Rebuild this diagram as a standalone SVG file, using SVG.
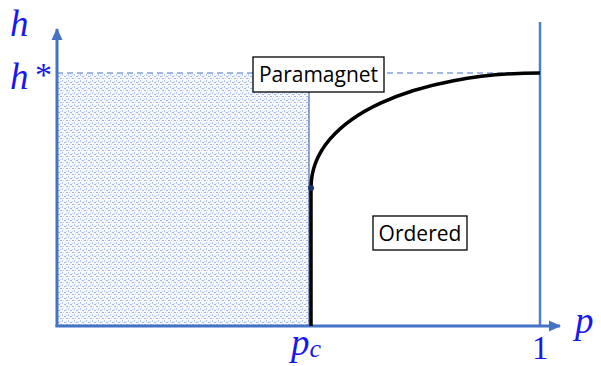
<svg xmlns="http://www.w3.org/2000/svg" width="601" height="366" viewBox="0 0 601 366">
<style>
.math{font-family:"Liberation Serif","DejaVu Serif",serif;font-style:italic;fill:#1818ee}
.num{font-family:"Liberation Serif","DejaVu Serif",serif;fill:#1818ee}
.lbl{font-family:"Open Sans","Noto Sans","Liberation Sans",sans-serif;font-size:21px;fill:#000}
.box{fill:#fff;stroke:#000;stroke-width:1.3}
.axis{stroke:#4472c4;stroke-width:3;fill:none}
</style>
<defs>
<pattern id="dots" width="6" height="6" patternUnits="userSpaceOnUse">
<rect width="6" height="6" fill="#f7f9fd"/>
<rect x="0" y="0" width="2" height="1" fill="#9fb6e4"/>
<rect x="2" y="2" width="1" height="2" fill="#b4c7ec"/>
<rect x="4" y="4" width="2" height="1" fill="#9fb6e4"/>
<rect x="3" y="0" width="1" height="1" fill="#c6d4f0"/>
<rect x="0" y="3" width="1" height="1" fill="#c6d4f0"/>
</pattern>
<marker id="arrH" viewBox="0 0 12 12" refX="11" refY="6" markerWidth="12" markerHeight="12" orient="auto" markerUnits="userSpaceOnUse">
<path d="M0,0.5 L12,6 L0,11.5 z" fill="#4472c4"/>
</marker>
</defs>
<g id="region-shaded">
<rect x="57" y="73" width="252" height="253" fill="url(#dots)"/>
</g>
<g id="connectors">
<line x1="57" y1="73" x2="540" y2="73" stroke="#4472c4" stroke-width="1" stroke-dasharray="6,4"/>
<line x1="309" y1="73" x2="309" y2="326" stroke="#2f5597" stroke-width="1"/>
<line x1="540" y1="22" x2="540" y2="326" stroke="#4a7fd8" stroke-width="2.5"/>
<line x1="57" y1="327" x2="57" y2="29" class="axis" marker-end="url(#arrH)"/>
<line x1="55.5" y1="326" x2="560" y2="326" class="axis" marker-end="url(#arrH)"/>
<path d="M311,326 L311,188 C311,115 420,73 540,73" fill="none" stroke="#000" stroke-width="3.5"/>
<circle cx="311" cy="188" r="3" fill="#1f2f6f"/>
</g>
<g id="axis-labels">
<text x="10" y="36" class="math" font-size="37">h</text>
<text x="10" y="89" class="math" font-size="37">h</text>
<text x="35" y="86" class="num" font-size="34">*</text>
<text x="575" y="333" class="math" font-size="37">p</text>
<text x="291" y="355" class="math" font-size="37">p<tspan font-size="26" dy="2">c</tspan></text>
<text x="532" y="359" class="num" font-size="33">1</text>
</g>
<g id="paramagnet">
<rect x="253" y="57" width="131" height="35" class="box"/>
<text x="318.5" y="82" class="lbl" text-anchor="middle">Paramagnet</text>
</g>
<g id="ordered">
<rect x="373" y="216" width="94" height="34" class="box"/>
<text x="420" y="240.5" class="lbl" text-anchor="middle">Ordered</text>
</g>
</svg>
